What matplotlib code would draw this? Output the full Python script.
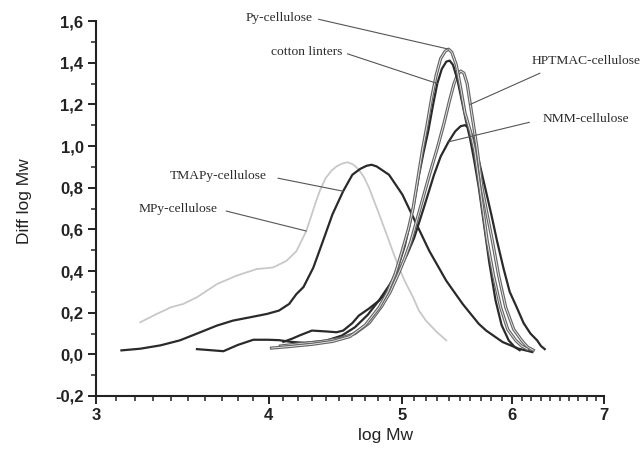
import numpy as np
import matplotlib
matplotlib.use("Agg")
import matplotlib.pyplot as plt
from matplotlib.ticker import FixedLocator, FuncFormatter, NullFormatter, MultipleLocator
import matplotlib.patheffects as pe

# --- data (log Mw, Diff log Mw) ---
mpy_x = [3.23, 3.32, 3.40, 3.47, 3.55, 3.67, 3.79, 3.92, 4.03, 4.12, 4.19, 4.26, 4.33,
         4.36, 4.40, 4.44, 4.48, 4.52, 4.565, 4.61, 4.65, 4.69, 4.73, 4.81, 4.89, 4.97,
         5.03, 5.09, 5.14, 5.20, 5.29, 5.38]
mpy_y = [0.154, 0.194, 0.226, 0.242, 0.274, 0.337, 0.377, 0.409, 0.417, 0.448, 0.495, 0.592, 0.735,
         0.79, 0.846, 0.88, 0.902, 0.915, 0.922, 0.91, 0.886, 0.85, 0.799, 0.673, 0.544, 0.417,
         0.34, 0.274, 0.21, 0.162, 0.11, 0.067]

tmapy_x = [3.13, 3.23, 3.34, 3.45, 3.57, 3.67, 3.77, 3.88, 3.99, 4.07, 4.14, 4.19, 4.24, 4.31,
           4.38, 4.45, 4.53, 4.60, 4.66, 4.71, 4.75, 4.79, 4.89, 5.00, 5.12, 5.23, 5.38, 5.53,
           5.68, 5.75, 5.91, 6.07, 6.21]
tmapy_y = [0.019, 0.027, 0.043, 0.067, 0.106, 0.138, 0.162, 0.178, 0.194, 0.210, 0.242, 0.289, 0.323, 0.416,
           0.544, 0.672, 0.783, 0.862, 0.89, 0.905, 0.91, 0.902, 0.862, 0.767, 0.624, 0.496, 0.353, 0.241,
           0.146, 0.114, 0.059, 0.027, 0.011]

py_x = [4.02, 4.15, 4.30, 4.45, 4.58, 4.70, 4.81, 4.88, 4.94, 5.00, 5.05, 5.09, 5.13, 5.17,
        5.21, 5.25, 5.29, 5.33, 5.37, 5.40, 5.43, 5.47, 5.51, 5.55, 5.60, 5.64, 5.69, 5.76,
        5.82, 5.89, 5.96, 6.04, 6.10, 6.16]
py_y = [0.030, 0.038, 0.048, 0.062, 0.085, 0.140, 0.225, 0.30, 0.385, 0.50, 0.60, 0.70, 0.84, 0.98,
        1.10, 1.23, 1.34, 1.42, 1.455, 1.465, 1.45, 1.39, 1.28, 1.16, 1.07, 0.98, 0.80, 0.544,
        0.38, 0.226, 0.12, 0.067, 0.04, 0.025]

cotton_x = [4.10, 4.16, 4.21, 4.30, 4.40, 4.48, 4.53, 4.60, 4.65, 4.73, 4.81, 4.87, 4.92, 4.97,
            5.02, 5.06, 5.10, 5.14, 5.18, 5.22, 5.26, 5.30, 5.34, 5.38, 5.41, 5.44, 5.48, 5.52,
            5.56, 5.60, 5.64, 5.68, 5.73, 5.78, 5.84, 5.90, 5.97, 6.03, 6.08]
cotton_y = [0.06, 0.075, 0.09, 0.114, 0.11, 0.106, 0.114, 0.15, 0.186, 0.22, 0.258, 0.30, 0.36, 0.43,
            0.52, 0.62, 0.73, 0.86, 0.97, 1.07, 1.19, 1.30, 1.37, 1.405, 1.41, 1.39, 1.32, 1.22,
            1.12, 1.03, 0.92, 0.80, 0.62, 0.44, 0.26, 0.14, 0.067, 0.035, 0.02]

hptmac_x = [4.08, 4.20, 4.35, 4.50, 4.62, 4.73, 4.83, 4.90, 4.97, 5.02, 5.07, 5.15, 5.23, 5.30,
            5.36, 5.41, 5.45, 5.48, 5.51, 5.54, 5.57, 5.60, 5.63, 5.66, 5.71, 5.76, 5.81, 5.87,
            5.94, 6.02, 6.10, 6.16, 6.22]
hptmac_y = [0.04, 0.05, 0.06, 0.075, 0.10, 0.15, 0.23, 0.30, 0.39, 0.46, 0.54, 0.70, 0.86, 0.99,
            1.11, 1.22, 1.30, 1.34, 1.36, 1.35, 1.30, 1.20, 1.10, 1.00, 0.80, 0.67, 0.544, 0.38,
            0.226, 0.12, 0.067, 0.035, 0.02]

nmm_x = [3.55, 3.63, 3.71, 3.80, 3.90, 4.00, 4.07, 4.15, 4.25, 4.40, 4.52, 4.62, 4.72, 4.81,
         4.89, 4.97, 5.04, 5.10, 5.18, 5.27, 5.33, 5.40, 5.46, 5.51, 5.55, 5.59, 5.62, 5.68,
         5.74, 5.80, 5.855, 5.92, 5.98, 6.05, 6.12, 6.19, 6.26, 6.30, 6.34]
nmm_y = [0.025, 0.02, 0.015, 0.045, 0.07, 0.07, 0.068, 0.06, 0.055, 0.065, 0.09, 0.13, 0.19, 0.26,
         0.33, 0.40, 0.48, 0.56, 0.70, 0.86, 0.95, 1.02, 1.07, 1.095, 1.10, 1.085, 1.045, 0.93,
         0.80, 0.67, 0.544, 0.41, 0.30, 0.226, 0.15, 0.10, 0.067, 0.04, 0.025]

x_major = [3, 4, 5, 6, 7]

plt.rcParams["font.family"] = "Liberation Sans"

fig = plt.figure(figsize=(6.4, 4.5), dpi=100)
ax = fig.add_axes([0.15, 0.12, 0.794, 0.8333])

hollow = [pe.Stroke(linewidth=2.3, foreground="#666666"), pe.Normal()]

ax.plot(mpy_x, mpy_y, color="#c8c8c8", lw=1.3)
ax.plot(tmapy_x, tmapy_y, color="#2a2a2a", lw=1.6)
ax.plot(nmm_x, nmm_y, color="#2a2a2a", lw=1.6)
ax.plot(hptmac_x, hptmac_y, color="#f0f0f0", lw=0.6, path_effects=hollow)
ax.plot(cotton_x, cotton_y, color="#2a2a2a", lw=1.6)
ax.plot(py_x, py_y, color="#f0f0f0", lw=0.6, path_effects=hollow)

ax.set_xscale("log")
ax.set_xlim(3, 7)
ax.set_ylim(-0.2, 1.6)
ax.xaxis.set_major_locator(FixedLocator(x_major))
ax.xaxis.set_minor_locator(FixedLocator([v for v in np.arange(3.1, 7.0, 0.1) if abs(v - round(v)) > 0.01]))
ax.xaxis.set_major_formatter(FuncFormatter(lambda v, p: f"{v:.0f}"))
ax.xaxis.set_minor_formatter(NullFormatter())
ax.yaxis.set_major_locator(MultipleLocator(0.2))
ax.yaxis.set_minor_locator(MultipleLocator(0.1))
ax.yaxis.set_major_formatter(FuncFormatter(lambda v, p: f"{v:.1f}".replace(".", ",").replace("-0,0", "0,0")))

for s in ["top", "right"]:
    ax.spines[s].set_visible(False)
for s in ["left", "bottom"]:
    ax.spines[s].set_linewidth(1.5)
    ax.spines[s].set_color("#222222")
ax.tick_params(which="major", length=6, width=1.4, color="#222222", labelsize=12, pad=3)
ax.tick_params(which="minor", length=3.5, width=1.1, color="#222222")
for lab in ax.get_xticklabels() + ax.get_yticklabels():
    lab.set_fontweight("bold")
    lab.set_color("#222222")

ax.set_xlabel("log Mw", fontsize=12.5, color="#222222")
ax.set_ylabel("Diff log Mw", fontsize=12.5, color="#222222")
ax.xaxis.set_label_coords(0.57, -0.085)
ax.yaxis.set_label_coords(-0.125, 0.52)

# annotations with leader lines
tstyle = dict(fontsize=9.7, family="Liberation Serif", color="#2a2a2a", textcoords="figure pixels", va="center")
line = dict(arrowstyle="-", color="#555555", lw=0.8, shrinkA=2, shrinkB=0)
i = py_y.index(max(py_y))
ax.annotate("Py-cellulose", xy=(py_x[i], py_y[i]), xytext=(313, 432), ha="right",
            arrowprops=dict(line, relpos=(1, 0.5)), **tstyle)
i = cotton_x.index(5.30)
ax.annotate("cotton linters", xy=(cotton_x[i], cotton_y[i]), xytext=(342, 398), ha="right",
            arrowprops=dict(line, relpos=(1, 0.5)), **tstyle)
i = hptmac_x.index(5.60)
ax.annotate("HPTMAC-cellulose", xy=(hptmac_x[i], hptmac_y[i]), xytext=(532, 389), ha="left",
            arrowprops=dict(line, relpos=(0.2, 0.0), shrinkA=6), **tstyle)
i = nmm_x.index(5.40)
ax.annotate("NMM-cellulose", xy=(nmm_x[i], nmm_y[i]), xytext=(543, 331), ha="left",
            arrowprops=dict(line, relpos=(0, 0.5), shrinkA=8), **tstyle)
i = tmapy_x.index(4.53)
ax.annotate("TMAPy-cellulose", xy=(tmapy_x[i], tmapy_y[i]), xytext=(267, 274), ha="right",
            arrowprops=dict(line, relpos=(1, 0.5), shrinkA=6), **tstyle)
i = mpy_x.index(4.26)
ax.annotate("MPy-cellulose", xy=(mpy_x[i], mpy_y[i]), xytext=(218, 241), ha="right",
            arrowprops=dict(line, relpos=(1, 0.5), shrinkA=4), **tstyle)

fig.savefig("out.png", dpi=100)
